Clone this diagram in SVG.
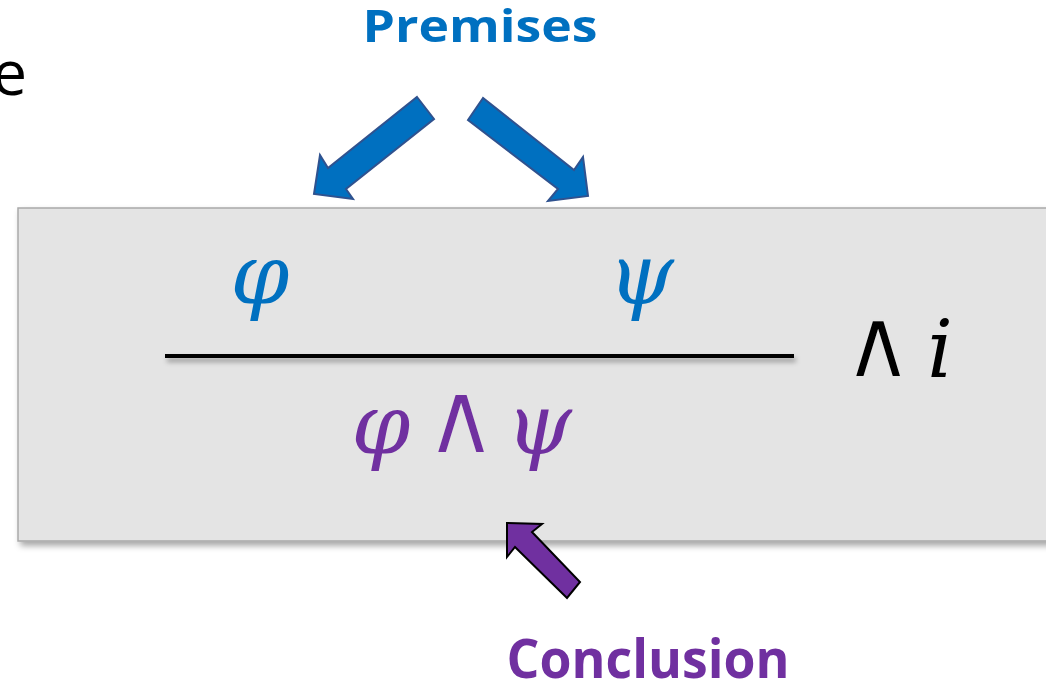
<svg xmlns="http://www.w3.org/2000/svg" width="1046" height="686" viewBox="0 0 1046 686">
<defs>
<filter id="sh" x="-10%" y="-10%" width="130%" height="140%">
<feDropShadow dx="3" dy="4" stdDeviation="3" flood-color="#000" flood-opacity="0.35"/>
</filter>
<filter id="shl" filterUnits="userSpaceOnUse" x="150" y="340" width="670" height="40">
<feDropShadow dx="2" dy="4" stdDeviation="2.5" flood-color="#000" flood-opacity="0.35"/>
</filter>
<style>
.lbl{font-family:"Open Sans","Liberation Sans",sans-serif;font-weight:bold;}
.math{font-family:"DejaVu Serif","Liberation Serif",serif;font-style:italic;stroke:none;}
.op{font-family:"DejaVu Sans","Liberation Sans",sans-serif;stroke:#e4e4e4;stroke-width:2;stroke-linejoin:miter;}
.barrow{fill:#0070C0;stroke:#2F528F;stroke-width:2;stroke-linejoin:miter;}
.parrow{fill:#7030A0;stroke:#000;stroke-width:2;stroke-linejoin:miter;}
</style>
</defs>
<rect width="1046" height="686" fill="#fff"/>
<text x="27" y="95" font-family="Open Sans, Liberation Sans, sans-serif" font-size="62" fill="#000" text-anchor="end">e</text>
<g id="rule-box">
<rect x="18" y="208" width="1040" height="333" fill="#e4e4e4" stroke="#a9a9a9" stroke-width="1.5" filter="url(#sh)"/>
<rect x="165" y="354" width="629" height="4" fill="#000" filter="url(#shl)"/>
<text class="math" x="260" y="303" font-size="84" fill="#0070C0" text-anchor="middle">φ</text>
<text class="math" x="641" y="303" font-size="84" fill="#0070C0" text-anchor="middle">ψ</text>
<text class="math" x="381" y="453" font-size="84" fill="#7030A0" text-anchor="middle">φ</text>
<text class="op" x="461" y="453" font-size="102" fill="#7030A0" text-anchor="middle">∧</text>
<text class="math" x="539" y="453" font-size="84" fill="#7030A0" text-anchor="middle">ψ</text>
<text class="op" x="878" y="377" font-size="98" fill="#000" text-anchor="middle">∧</text>
<text class="math" x="940" y="377" font-size="80" fill="#000" text-anchor="middle">i</text>
</g>
<g id="premises">
<text class="lbl" x="480" y="42" font-size="45" fill="#0070C0" text-anchor="middle" textLength="235" lengthAdjust="spacingAndGlyphs">Premises</text>
</g>
<g id="conclusion">
<text class="lbl" x="648" y="678" font-size="54" fill="#7030A0" text-anchor="middle" textLength="283" lengthAdjust="spacingAndGlyphs">Conclusion</text>
</g>
<g id="connectors">
<path class="barrow" d="M417,97 L434,119 L346,189 L353,199 L314,194 L320,155 L328,168 Z"/>
<path class="barrow" d="M483,98 L468,120 L558,189 L548,201 L588,196 L583,157 L574,170 Z"/>
<path class="parrow" d="M507,523 L542,524 L532,532 L580,582 L567,598 L515,547 L507,557 Z"/>
</g>
</svg>
